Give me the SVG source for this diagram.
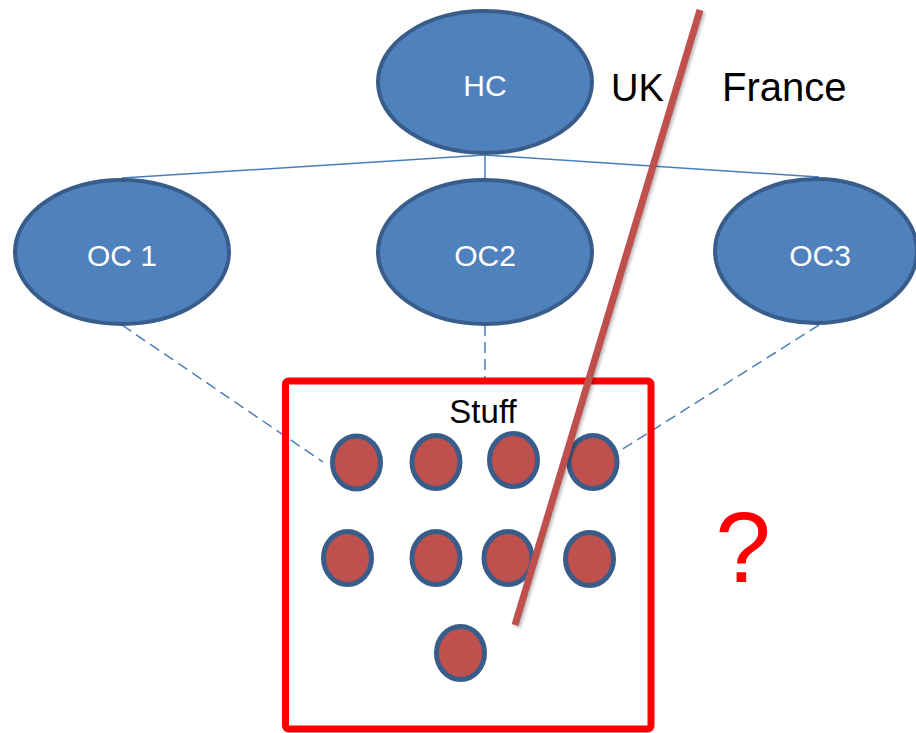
<svg xmlns="http://www.w3.org/2000/svg" width="916" height="733" viewBox="0 0 916 733">
  <style>
    .org { fill: #4f81bd; stroke: #385d8a; stroke-width: 4; }
    .org-label { font-family: "Liberation Sans", Arial, sans-serif; font-size: 30px; fill: #ffffff; text-anchor: middle; }
    .item { fill: #c0504d; stroke: #385d8a; stroke-width: 5; }
    .link { fill: none; stroke: #4a7ebb; stroke-width: 1.5; }
    .link-dashed { fill: none; stroke: #4a7ebb; stroke-width: 1.5; stroke-dasharray: 11 6; }
    .label { font-family: "Liberation Sans", Arial, sans-serif; fill: #000000; }
  </style>
  <defs>
    <filter id="soft" x="-20%" y="-20%" width="140%" height="140%">
      <feGaussianBlur stdDeviation="1.5"/>
    </filter>
  </defs>
  <rect width="916" height="733" fill="#ffffff"/>

  <!-- connectors -->
  <g id="connectors">
    <line class="link" x1="485" y1="155" x2="122" y2="178"/>
    <line class="link" x1="485" y1="155" x2="485" y2="178"/>
    <line class="link" x1="485" y1="155" x2="819" y2="177"/>
    <line class="link-dashed" x1="122" y1="325" x2="323" y2="462"/>
    <line class="link-dashed" x1="485" y1="325" x2="485" y2="378"/>
    <line class="link-dashed" x1="819" y1="325" x2="618" y2="452"/>
  </g>

  <!-- organisations -->
  <g id="hc">
    <ellipse class="org" cx="485" cy="82" rx="107" ry="71"/>
    <text class="org-label" x="485" y="96">HC</text>
  </g>
  <g id="oc1">
    <ellipse class="org" cx="122" cy="252" rx="107" ry="72"/>
    <text class="org-label" x="122" y="266">OC 1</text>
  </g>
  <g id="oc2">
    <ellipse class="org" cx="485" cy="252" rx="107" ry="72"/>
    <text class="org-label" x="485" y="266">OC2</text>
  </g>
  <g id="oc3">
    <ellipse class="org" cx="816" cy="251" rx="101" ry="72"/>
    <text class="org-label" x="820" y="266">OC3</text>
  </g>

  <!-- stuff container -->
  <g id="stuff">
    <rect x="285.5" y="381" width="365.5" height="348" rx="3" fill="none" stroke="#ff0000" stroke-width="7"/>
    <text class="label" x="483" y="423" font-size="33" text-anchor="middle">Stuff</text>
    <ellipse class="item" cx="356.5" cy="462.5" rx="24" ry="26.5"/>
    <ellipse class="item" cx="436" cy="462" rx="24" ry="26.5"/>
    <ellipse class="item" cx="513.5" cy="460" rx="24" ry="26.5"/>
    <ellipse class="item" cx="593" cy="462" rx="24" ry="26.5"/>
    <ellipse class="item" cx="347.5" cy="558" rx="24" ry="26.5"/>
    <ellipse class="item" cx="436" cy="558" rx="24" ry="26.5"/>
    <ellipse class="item" cx="508" cy="558" rx="24" ry="26.5"/>
    <ellipse class="item" cx="589.5" cy="559" rx="24" ry="26.5"/>
    <ellipse class="item" cx="460.5" cy="653" rx="24" ry="26.5"/>
  </g>

  <!-- border line -->
  <g id="border">
    <line x1="702" y1="12" x2="517" y2="627" stroke="#000000" stroke-opacity="0.25" stroke-width="7" filter="url(#soft)"/>
    <line x1="700" y1="10" x2="515" y2="625" stroke="#c0504d" stroke-width="7"/>
  </g>

  <g id="countries">
    <text class="label" x="611" y="101" font-size="38">UK</text>
    <text class="label" x="722" y="101" font-size="40">France</text>
  </g>

  <g id="question">
    <text x="743" y="582" font-family="Liberation Sans, Arial, sans-serif" font-size="100" fill="#ff0000" text-anchor="middle">?</text>
  </g>
</svg>
